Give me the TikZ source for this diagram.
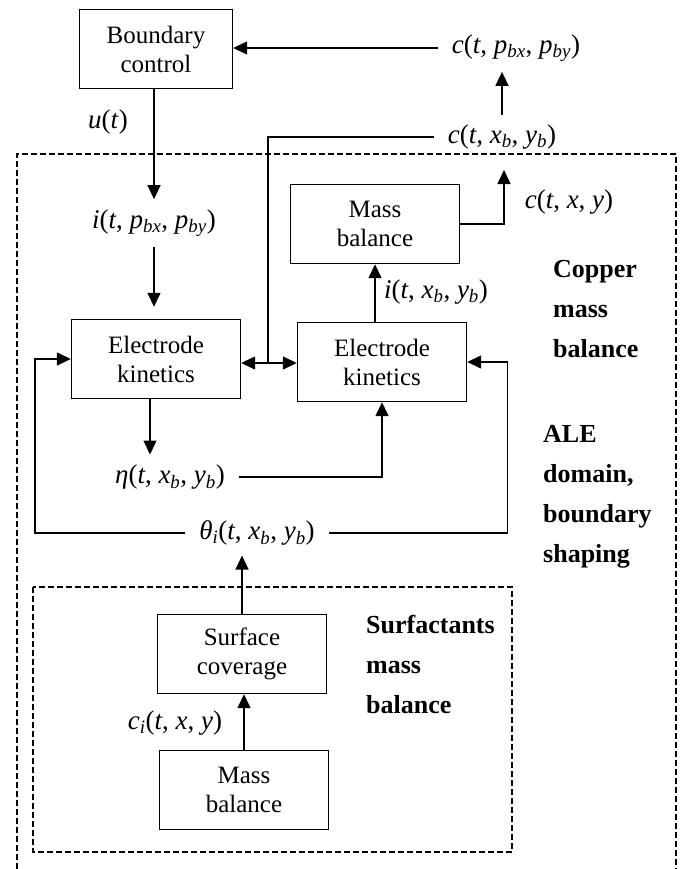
\documentclass[tikz,border=0pt]{standalone}
\usepackage{fontspec}
\setmainfont{Liberation Serif}
\usetikzlibrary{arrows.meta}
\newcommand{\vi}[1]{\textit{#1}}
\newcommand{\sbv}[1]{\textsubscript{\textit{#1}}}

\begin{document}
\begin{tikzpicture}[
    x=1pt, y=-1pt,
    blk/.style={rectangle, draw, line width=1.4pt, minimum width=169pt,
                minimum height=79pt, align=center, inner sep=2pt,
                font=\fontsize{25}{29}\selectfont},
    sig/.style={inner xsep=14pt, inner ysep=10pt, font=\fontsize{27}{30}\selectfont},
    note/.style={align=left, anchor=west, inner sep=0pt,
                 font=\fontsize{26}{40}\selectfont\bfseries},
    wire/.style={line width=1.4pt},
    arr/.style={wire, -{Triangle[length=14pt, width=13pt]}},
    dbl/.style={wire, {Triangle[length=14pt, width=13pt]}-{Triangle[length=14pt, width=13pt]}},
    zone/.style={line width=1.4pt, dash pattern=on 6pt off 3pt}
  ]
    \useasboundingbox (0,0) rectangle (680,869);

    % zones
    \draw[zone] (17,869) -- (17,154) -- (676,154) -- (676,869);
    \draw[zone] (33,587) rectangle (512,852);

    % blocks
    \node[blk, minimum width=153pt] (bc) at (156,49) {Boundary\\control};
    \node[blk] (mbu) at (375,224) {Mass\\balance};
    \node[blk] (ekl) at (156,359) {Electrode\\kinetics};
    \node[blk] (ekr) at (382,362) {Electrode\\kinetics};
    \node[blk] (sc) at (242,654) {Surface\\coverage};
    \node[blk] (mbl) at (244,790) {Mass\\balance};

    % signals
    \node[sig] (cp) at (516,48) {\vi{c}(\vi{t}, \vi{p}\sbv{bx}, \vi{p}\sbv{by})};
    \node[sig] (cb) at (502,137) {\vi{c}(\vi{t}, \vi{x}\sbv{b}, \vi{y}\sbv{b})};
    \node[sig] (ut) at (108,122) {\vi{u}(\vi{t})};
    \node[sig] (ip) at (154,223) {\vi{i}(\vi{t}, \vi{p}\sbv{bx}, \vi{p}\sbv{by})};
    \node[sig] (cxy) at (569,202) {\vi{c}(\vi{t}, \vi{x}, \vi{y})};
    \node[sig] (ib) at (436,292) {\vi{i}(\vi{t}, \vi{x}\sbv{b}, \vi{y}\sbv{b})};
    \node[sig] (eta) at (170,477) {\vi{η}(\vi{t}, \vi{x}\sbv{b}, \vi{y}\sbv{b})};
    \node[sig] (theta) at (257,533) {\vi{θ}\sbv{i}(\vi{t}, \vi{x}\sbv{b}, \vi{y}\sbv{b})};
    \node[sig] (ci) at (175,723) {\vi{c}\sbv{i}(\vi{t}, \vi{x}, \vi{y})};

    % notes
    \node[note] (cu) at (553,309) {Copper\\mass\\balance};
    \node[note] (ale) at (543,497) {ALE\\domain,\\boundary\\shaping};
    \node[note] (sf) at (366,664) {Surfactants\\mass\\balance};

    \coordinate (jn) at (268,363);
    \coordinate (ctip) at (504,170);

    % connectors
    \draw[arr] (cp.west) -- (cp.west -| bc.east);
    \draw[arr] (cb.north) -- (cb.north |- cp.south);
    \draw[wire] (cb.west) -| (jn);
    \draw[dbl] (jn -| ekl.east) -- (jn -| ekr.west);
    \draw[arr] (bc.south -| ip.north) -- (ip.north);
    \draw[arr, shorten >=12pt] (ip.south) -- (ip.south |- ekl.north);
    \draw[arr] (mbu.south |- ekr.north) -- (mbu.south);
    \draw[arr] (mbu.east) -| (ctip);
    \draw[arr] ([xshift=-6pt]ekl.south) -- ([xshift=-6pt]ekl.south |- eta.north);
    \draw[arr] (eta.east) -| (ekr.south);
    \draw[arr] (theta.west) -| ([xshift=-36pt]ekl.west) -- (ekl.west);
    \draw[arr] (theta.east) -| ([xshift=40pt]ekr.east) -- (ekr.east);
    \draw[arr] (sc.north) -- (sc.north |- theta.south);
    \draw[arr] (mbl.north) -- (mbl.north |- sc.south);
  \end{tikzpicture}
\end{document}
